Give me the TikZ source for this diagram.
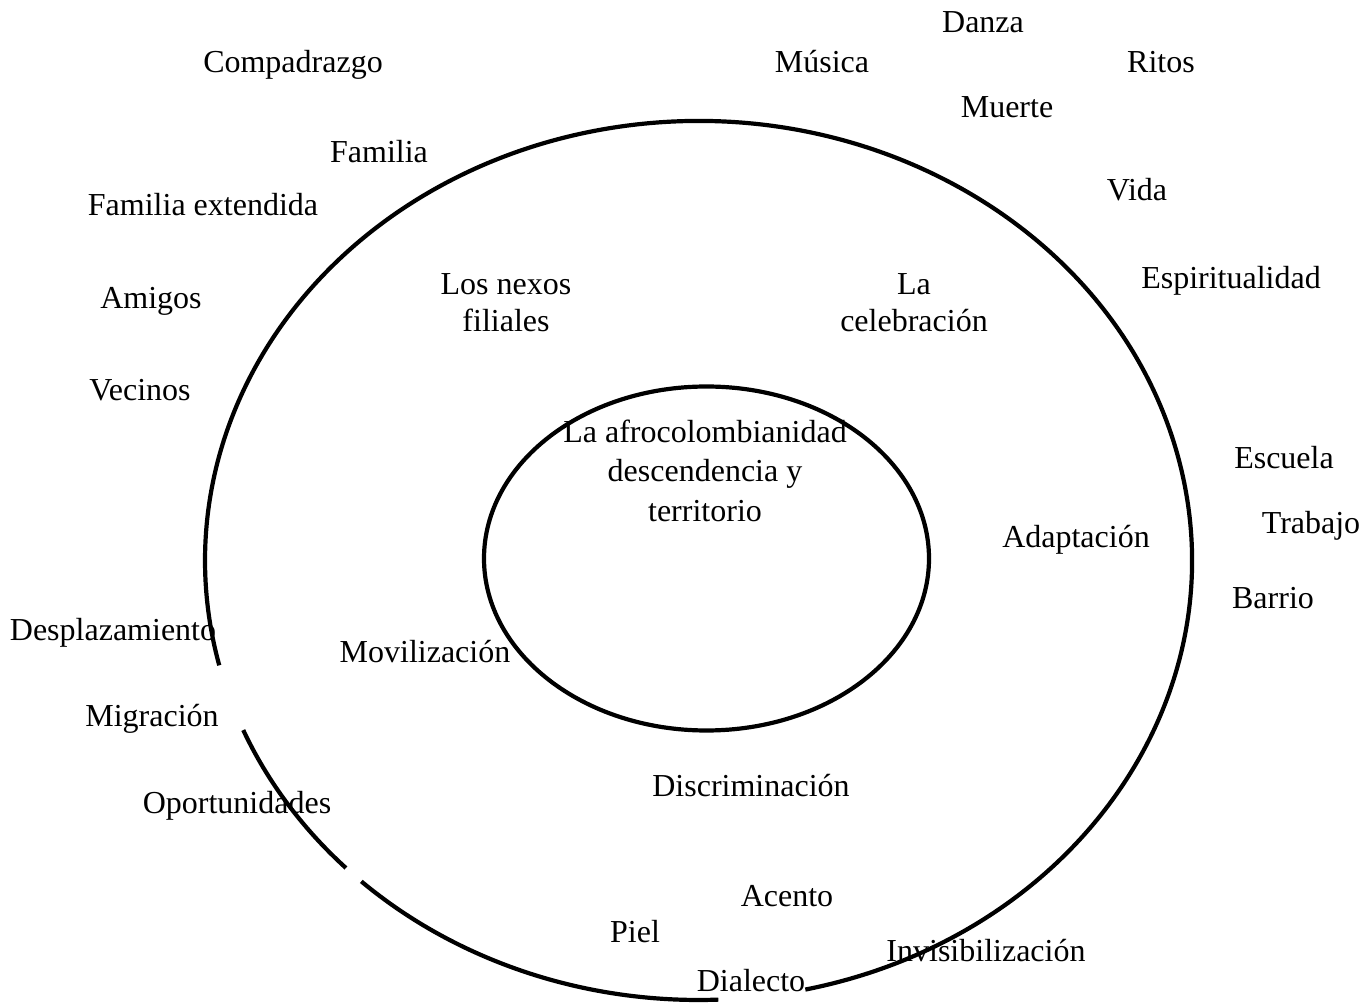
\documentclass[tikz,border=0pt]{standalone}
\usepackage{fontspec}
\setmainfont{Liberation Serif}
\begin{document}
\begin{tikzpicture}[x=1pt,y=1pt,
  lbl/.style={font=\fontsize{32}{37}\selectfont, inner sep=0pt, anchor=base},
  multi/.style={font=\fontsize{32}{37}\selectfont, inner sep=0pt, anchor=center, align=center},
  ring/.style={line width=4.2pt, black}]
\useasboundingbox (0,0) rectangle (1371,1002);
\coordinate (oc) at (698.5,441.5);
\coordinate (ic) at (706.5,443.5);
% outer ring (drawn with the gaps of the reference)
\draw[ring] ([shift={(282.5:493.5pt and 439.5pt)}]oc) arc[start angle=282.5, end angle=553.8, x radius=493.5pt, y radius=439.5pt];
\draw[ring] ([shift={(202.7:493.5pt and 439.5pt)}]oc) arc[start angle=202.7, end angle=224.4, x radius=493.5pt, y radius=439.5pt];
\draw[ring] ([shift={(226.9:493.5pt and 439.5pt)}]oc) arc[start angle=226.9, end angle=272.3, x radius=493.5pt, y radius=439.5pt];
% inner ring
\draw[ring] (ic) ellipse[x radius=222.5pt, y radius=172pt];
% labels
\node[lbl] (compadrazgo) at (293,929) {Compadrazgo};
\node[lbl] (musica) at (822,929) {Música};
\node[lbl] (danza) at (983,969) {Danza};
\node[lbl] (ritos) at (1161,929) {Ritos};
\node[lbl] (muerte) at (1007,884) {Muerte};
\node[lbl] (familia) at (379,839) {Familia};
\node[lbl] (vida) at (1137,801) {Vida};
\node[lbl] (famext) at (203,786) {Familia extendida};
\node[lbl] (espirit) at (1231,713) {Espiritualidad};
\node[lbl] (amigos) at (151,693) {Amigos};
\node[lbl] (vecinos) at (140,601) {Vecinos};
\node[lbl] (escuela) at (1284,533) {Escuela};
\node[lbl] (trabajo) at (1311,468) {Trabajo};
\node[lbl] (adapt) at (1076,454) {Adaptación};
\node[lbl] (barrio) at (1273,393) {Barrio};
\node[lbl] (desplaz) at (113,361) {Desplazamiento};
\node[lbl] (moviliz) at (425,339) {Movilización};
\node[lbl] (migra) at (152,275) {Migración};
\node[lbl] (oport) at (237,189) {Oportunidades};
\node[lbl] (discrim) at (751,205) {Discriminación};
\node[lbl] (acento) at (787,96) {Acento};
\node[lbl] (piel) at (635,60) {Piel};
\node[lbl] (invis) at (986,41) {Invisibilización};
\node[lbl] (dialecto) at (751,11) {Dialecto};
\node[multi] (nexos) at (506,699) {Los nexos\\filiales};
\node[multi] (celeb) at (914,699.5) {La\\celebración};
\node[multi, font=\fontsize{32}{39.5}\selectfont] (afro) at (705,531.5) {La afrocolombianidad\\descendencia y\\territorio};
\end{tikzpicture}
\end{document}
